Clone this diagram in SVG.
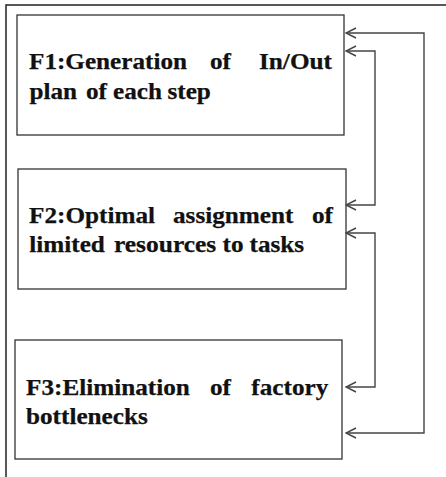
<svg xmlns="http://www.w3.org/2000/svg" width="446" height="477" viewBox="0 0 446 477">
<defs>
<style>
.box{fill:#fff;stroke:#333;stroke-width:1.3}
.t{font-family:'Liberation Serif','DejaVu Serif',serif;font-weight:700;font-size:23px;fill:#111;stroke:#111;stroke-width:0.25}
.c{fill:none;stroke:#444;stroke-width:1.4}
</style>
<marker id="ah" markerWidth="12" markerHeight="12" refX="11" refY="6" orient="auto-start-reverse" markerUnits="userSpaceOnUse">
<path d="M1,1 L11,6 L1,11" fill="none" stroke="#444" stroke-width="1.4"/>
</marker>
</defs>
<rect x="0" y="0" width="446" height="477" fill="#fff"/>
<path d="M6,477 L6,5 L446,5" fill="none" stroke="#222" stroke-width="1.5"/>
<g id="f1">
<rect class="box" x="17" y="15" width="327" height="120"/>
<text class="t" x="29" y="69" textLength="158" lengthAdjust="spacingAndGlyphs">F1:Generation</text>
<text class="t" x="210" y="69" textLength="21" lengthAdjust="spacingAndGlyphs">of</text>
<text class="t" x="259" y="69" textLength="73" lengthAdjust="spacingAndGlyphs">In/Out</text>
<text class="t" x="29.5" y="99" textLength="47.6" lengthAdjust="spacingAndGlyphs">plan</text>
<text class="t" x="86" y="99" textLength="21" lengthAdjust="spacingAndGlyphs">of</text>
<text class="t" x="113" y="99" textLength="49" lengthAdjust="spacingAndGlyphs">each</text>
<text class="t" x="167.5" y="99" textLength="43.4" lengthAdjust="spacingAndGlyphs">step</text>
</g>
<g id="f2">
<rect class="box" x="18" y="169" width="328" height="120"/>
<text class="t" x="29" y="223" textLength="126" lengthAdjust="spacingAndGlyphs">F2:Optimal</text>
<text class="t" x="173" y="223" textLength="120.4" lengthAdjust="spacingAndGlyphs">assignment</text>
<text class="t" x="312" y="223" textLength="21" lengthAdjust="spacingAndGlyphs">of</text>
<text class="t" x="29.3" y="252" textLength="75.6" lengthAdjust="spacingAndGlyphs">limited</text>
<text class="t" x="114" y="252" textLength="102.2" lengthAdjust="spacingAndGlyphs">resources</text>
<text class="t" x="222.5" y="252" textLength="21" lengthAdjust="spacingAndGlyphs">to</text>
<text class="t" x="249.5" y="252" textLength="54.6" lengthAdjust="spacingAndGlyphs">tasks</text>
</g>
<g id="f3">
<rect class="box" x="15" y="340" width="327" height="119"/>
<text class="t" x="26" y="395" textLength="163.8" lengthAdjust="spacingAndGlyphs">F3:Elimination</text>
<text class="t" x="210" y="395" textLength="21" lengthAdjust="spacingAndGlyphs">of</text>
<text class="t" x="251.3" y="395" textLength="77" lengthAdjust="spacingAndGlyphs">factory</text>
<text class="t" x="26" y="424" textLength="121.8" lengthAdjust="spacingAndGlyphs">bottlenecks</text>
</g>
<g id="connectors">
<path class="c" d="M346,33 L424,33 L424,433 L346,433" marker-start="url(#ah)" marker-end="url(#ah)"/>
<path class="c" d="M346,51 L375,51 L375,205 L346,205" marker-start="url(#ah)" marker-end="url(#ah)"/>
<path class="c" d="M346,233 L375,233 L375,387 L346,387" marker-start="url(#ah)" marker-end="url(#ah)"/>
</g>
</svg>
